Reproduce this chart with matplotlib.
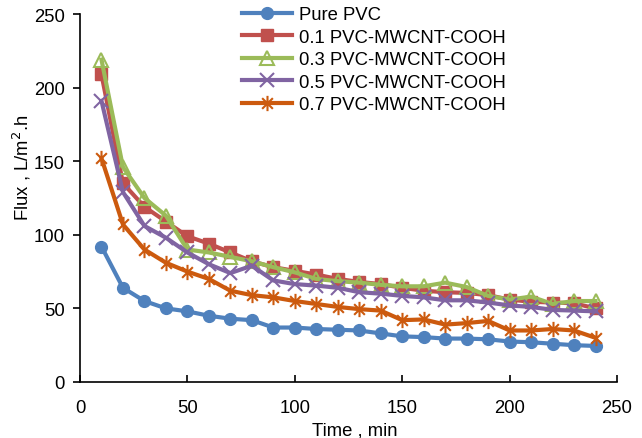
import matplotlib
matplotlib.use("Agg")
import matplotlib.pyplot as plt
from matplotlib.path import Path

# ── Data ──────────────────────────────────────────────────────────────────
time_min = [10, 20, 30, 40, 50, 60, 70, 80, 90, 100, 110, 120,
            130, 140, 150, 160, 170, 180, 190, 200, 210, 220, 230, 240]

pure_pvc = [92, 64, 55, 50, 48, 45, 43, 42, 37, 37, 36, 35.5,
            35, 33, 31, 30.5, 29.5, 29.5, 29, 27.5, 27, 26, 25, 24.5]
pvc_01 = [209, 135, 119, 109, 99, 94, 88, 82, 78, 75.5, 73, 70,
          68, 66.5, 64, 62, 61, 60.5, 59, 56, 54.5, 54, 53.5, 50]
pvc_03 = [219, 146, 125, 113, 90, 88, 85, 82, 78, 74.5, 70, 68.5,
          67.5, 66, 65, 65, 67.5, 64.5, 58.5, 56, 58, 53, 55, 55]
pvc_05 = [191, 129, 106, 98, 88, 80, 74, 79, 69, 66.5, 65.5, 64,
          61, 60, 58.5, 57.5, 55.5, 55.5, 54, 52, 51, 49, 48.5, 48]
pvc_07 = [152, 107, 90, 81, 75, 70, 62, 59, 57.5, 55, 53, 51,
          49.5, 48.5, 42, 42.5, 39, 40, 41.5, 35, 35, 36, 35, 30]

labels = ["Pure PVC", "0.1 PVC-MWCNT-COOH", "0.3 PVC-MWCNT-COOH",
          "0.5 PVC-MWCNT-COOH", "0.7 PVC-MWCNT-COOH"]

# ── Style ─────────────────────────────────────────────────────────────────
BLUE   = "#4F81BD"
RED    = "#C0504D"
GREEN  = "#9BBB59"
PURPLE = "#8064A2"
ORANGE = "#CC5A0E"
FS = 13.3

plt.rcParams["font.family"] = ["Liberation Sans", "DejaVu Sans"]

# excel-like star marker: x with a vertical bar
STAR = Path([(0, -1), (0, 1), (-0.7, -0.7), (0.7, 0.7), (-0.7, 0.7), (0.7, -0.7)],
            [Path.MOVETO, Path.LINETO, Path.MOVETO, Path.LINETO, Path.MOVETO, Path.LINETO])

fig = plt.figure(figsize=(6.42, 4.39), dpi=100)
ax = fig.add_axes([80 / 642, 1 - 383 / 439, 537 / 642, 368 / 439])

lw = 3.0
ax.plot(time_min, pure_pvc, color=BLUE, lw=lw, marker="o", ms=8.5,
        mfc=BLUE, mec=BLUE, label=labels[0])
ax.plot(time_min, pvc_01, color=RED, lw=lw, marker="s", ms=8,
        mfc=RED, mec=RED, label=labels[1])
ax.plot(time_min, pvc_03, color=GREEN, lw=lw, marker="^", ms=10,
        mfc="none", mec=GREEN, mew=1.5, label=labels[2])
ax.plot(time_min, pvc_05, color=PURPLE, lw=lw, marker="x", ms=10,
        mec=PURPLE, mew=1.5, label=labels[3])
ax.plot(time_min, pvc_07, color=ORANGE, lw=lw, marker=STAR, ms=11,
        mfc="none", mec=ORANGE, mew=1.5, label=labels[4])

ax.set_xlim(0, 250)
ax.set_ylim(0, 250)
ax.set_xticks(range(0, 251, 50))
ax.set_yticks(range(0, 251, 50))
for s in ["top", "right"]:
    ax.spines[s].set_visible(False)
for s in ["left", "bottom"]:
    ax.spines[s].set_linewidth(1.2)
ax.tick_params(axis="x", direction="in", length=5, width=1.2, labelsize=FS, pad=12)
ax.tick_params(axis="y", direction="out", length=5, width=1.2, labelsize=FS, pad=6)

ax.set_xlabel("Time , min", fontsize=FS)
ax.xaxis.set_label_coords(0.512, -0.108)
ax.set_ylabel("Flux , L/m$^2$.h", fontsize=FS)
ax.yaxis.set_label_coords(-0.088, 0.585)

fig.legend(loc="upper left", bbox_to_anchor=(242 / 642, 1 - 7 / 439),
           frameon=False, fontsize=FS, handlelength=2.7, handletextpad=0.38,
           labelspacing=0.3, borderpad=0, borderaxespad=0)

fig.savefig("out.png", dpi=100)
